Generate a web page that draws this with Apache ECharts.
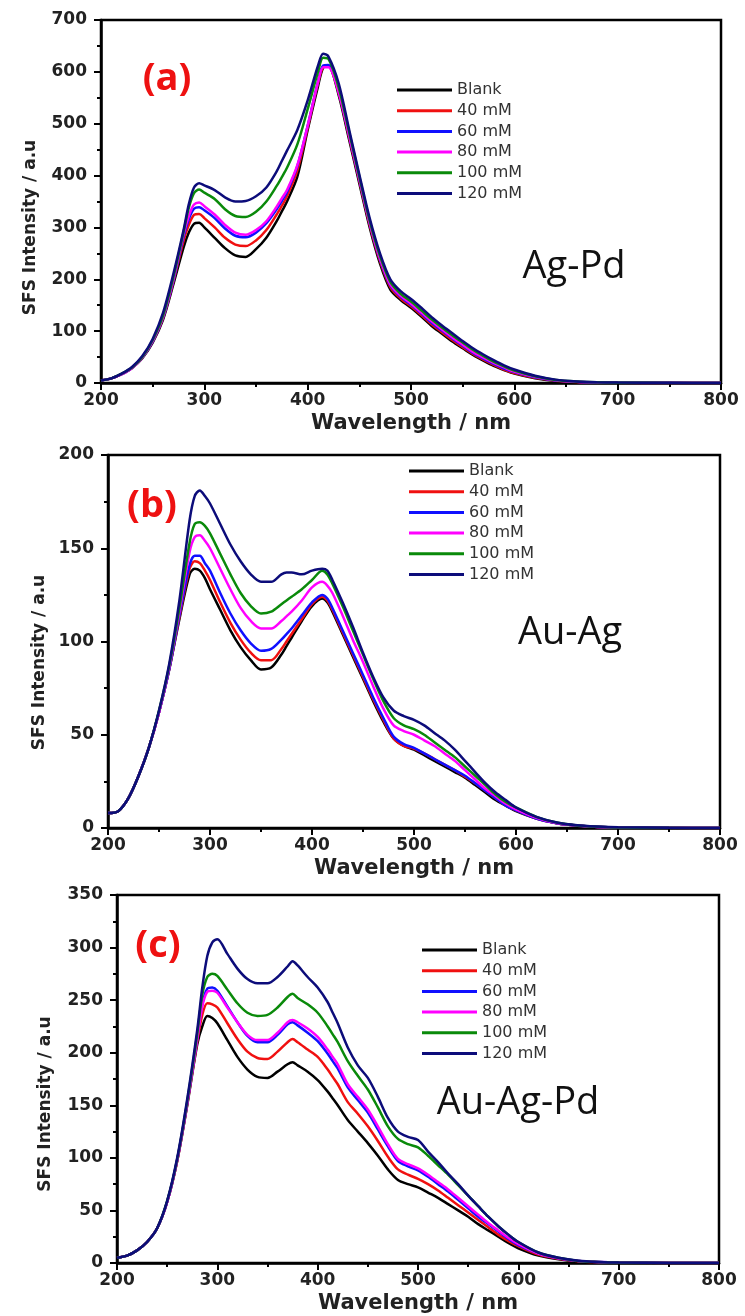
<!DOCTYPE html>
<html>
<head>
<meta charset="utf-8">
<script src="https://cdn.jsdelivr.net/npm/echarts@6/dist/echarts.min.js"></script>
<style>
html,body{margin:0;padding:0;background:#fff;}
#chart{width:745px;height:1316px;}
</style>
</head>
<body>
<div id="chart"></div>
<script>
// ---- data ----
const wavelengths = [200,210,220,230,240,250,260,270,280,285,290,295,300,310,320,330,340,350,360,370,375,380,390,400,410,415,420,430,440,450,460,470,480,490,500,510,520,530,540,550,560,570,580,590,600,620,640,660,680,700,750,800];
const seriesNames = ['Blank','40 mM','60 mM','80 mM','100 mM','120 mM'];
const xTicks = [200,300,400,500,600,700,800];

// (a) Ag-Pd
const agPd_blank = [5,9,17,29,48,78,122,190, 262,290,307,309,300, 280,260,246,243,258,280,312, 331, 350,398,488,572, 608, 611, 555,470,385,300,230,180,160,145,128,110,95,80,67,54,43,33,25, 18, 9,4,2,1,0.5, 0,0];
const agPd_40 = [5,9,17,29,49,80,125,195, 275,305,324,326,318, 300,280,267,264,275,295,325, 342, 360,410,492,578, 609, 611, 560,475,390,305,235,185,163,148,131,113,98,83,69,56,45,35,26, 19, 10,4.5,2,1,0.5, 0,0];
const agPd_60 = [5,9,17,29,49,80,126,197, 283,316,336,339,333, 318,298,284,281,290,308,335, 351, 368,418,496,581, 612, 613, 562,478,393,308,238,188,166,151,134,116,101,86,72,58,47,37,28, 21, 11,5,2.5,1,0.6, 0,0];
const agPd_80 = [5,9,17,29,49,81,127,199, 288,322,344,348,341, 325,305,290,286,295,312,340, 356, 372,420,496,580, 609, 609, 560,478,393,308,240,190,168,153,136,119,103,88,74,60,49,39,30, 22, 12,5.5,2.5,1.2,0.6, 0,0];
const agPd_100 = [5,9,18,30,50,83,130,204, 292,338,366,373,367, 355,335,322,320,330,350,380, 397, 415,460,528,600, 627, 625, 570,485,398,313,245,195,172,157,140,123,107,92,78,64,52,41,32, 24, 13,6,3,1.3,0.7, 0.2,0];
const agPd_120 = [5,9,18,31,52,85,135,210, 296,345,377,385,381, 372,358,350,351,360,377,408, 428, 448,488,545,612, 635, 630, 578,490,402,318,250,200,177,162,145,127,111,96,81,67,55,44,34, 26, 14,6.5,3,1.5,0.8, 0.3,0];

// (b) Au-Ag
const auAg_blank = [8,9,16,28,43,62,85,112, 136,139,138,134,128, 117,106,97,90,85,86,93, 97.5, 102,111,119,123, 121, 116, 104,92,80,68,57,48,44,42,39,36,33,30,27,23,19,15,12, 9, 5,2.5,1.2,0.6,0.3, 0.1,0];
const auAg_40 = [8,9,16,28,43,62,85,113, 139,143,142,138,133, 121,110,101,94,90,90,96, 100, 104,112,120,124, 122, 117, 105,93,81,69,58,48,44,42.5,40,37,34,31,27.5,24,20,16,12, 9.5, 5,2.5,1.2,0.6,0.3, 0.1,0];
const auAg_60 = [8,9,16,28,43,62,85,114, 141,146,146,142,138, 126,115,106,99,95,96,101, 104, 107,114,121,125, 123, 118, 106,94,82,70,59,49,45,43,40,37,34,31,28,24,20,16,12, 9.5, 5,2.5,1.2,0.6,0.3, 0.1,0];
const auAg_80 = [8,9,16,28,43,62,86,116, 148,156,157,154,150, 139,128,118,111,107,107,111, 113.5, 116,122,129,132, 130, 126, 114,101,89,76,64,55,52,50,47,44,40,36,31,26,21,17,13, 10, 5.5,2.7,1.3,0.6,0.3, 0.1,0];
const auAg_100 = [8,9,16,28,43,63,87,118, 153,163,164,162,158, 147,136,126,119,115,116,120, 122, 124,128,133,138, 136, 131, 119,106,93,80,68,59,55,53,50,46,42,38,33,28,23,18,14, 11, 6,3,1.4,0.7,0.3, 0.1,0];
const auAg_120 = [8,9,16,28,43,63,88,122, 165,178,181,178,174, 163,152,143,136,132,132,136, 137, 137,136,138,139, 138, 133, 121,108,94,81,70,63,60,58,55,51,47,42,36,30,24,19,15, 11, 6,3,1.5,0.8,0.4, 0.1,0];

// (c) Au-Ag-Pd
const auAgPd_blank = [5,7,12,20,33,58,97,150, 208,225,235,233,228, 212,196,184,177,176,182,189, 191, 188,182,174,163, 156.5, 150, 136,125,114,102,89,79,75,72,67,62,56,50,44,37,31,25,19, 14, 7,3.5,1.5,0.7,0.3, 0.1,0];
const auAgPd_40 = [5,7,12,20,33,58,97,151, 211,236,247,246,243, 228,213,201,195,194,201,210, 213, 210,203,196,184, 177, 170, 153,142,130,116,101,89,84,80,75,69,62,55,48,41,34,27,21, 16, 8,4,1.7,0.8,0.3, 0.1,0];
const auAgPd_60 = [5,7,12,20,33,58,98,152, 214,246,261,262,259, 244,229,216,210,210,217,227, 229, 226,219,211,199, 192, 185, 167,155,143,127,111,97,92,88,82,75,68,60,52,44,37,30,23, 17, 9,4.5,2,0.9,0.4, 0.1,0];
const auAgPd_80 = [5,7,12,20,33,58,98,152, 213,244,258,259,257, 243,229,217,212,212,219,229, 231, 229,223,215,203, 196, 189, 170,158,146,130,113,99,94,90,84,77,70,62,54,46,38,31,24, 18, 9,4.5,2,0.9,0.4, 0.1,0];
const auAgPd_100 = [5,7,12,20,33,59,99,154, 218,255,272,275,273, 260,247,238,235,236,243,253, 256, 252,246,238,225, 217.5, 210, 192,178,165,148,130,118,113,110,102,93,84,74,64,54,44,35,27, 20, 10,5,2,1,0.4, 0.1,0];
const auAgPd_120 = [5,7,12,20,33,59,100,156, 222,262,292,305,308, 294,280,270,266,266,272,282, 287, 283,272,262,248, 238, 228, 205,188,176,158,138,125,120,117,106,96,85,75,64,54,44,35,27, 20, 10,5,2.2,1,0.4, 0.1,0];

const panelLabels = ['(a)','(b)','(c)'];
const sampleNames = ['Ag-Pd','Au-Ag','Au-Ag-Pd'];
const yMax = [700,200,350];
const yInterval = [100,50,50];

// ---- styling ----
const colors = ['#000000','#f01010','#1010ff','#ff00ff','#0a8a0a','#0c0c7a'];
const panels = [
  [agPd_blank,agPd_40,agPd_60,agPd_80,agPd_100,agPd_120],
  [auAg_blank,auAg_40,auAg_60,auAg_80,auAg_100,auAg_120],
  [auAgPd_blank,auAgPd_40,auAgPd_60,auAgPd_80,auAgPd_100,auAgPd_120]
];
const grids = [
  {left:101, top:20, width:620, height:363},
  {left:108, top:455, width:612, height:373},
  {left:117, top:895, width:602, height:368}
];
const yNameGap = [62, 59, 63];
const yNameShift = [26, 21, 25];
const legendPos = [{left:397, top:81.5},{left:409, top:462.5},{left:422, top:941.5}];
const labelPos = [[167,79],[152,506],[158,946]];
const samplePos = [[574,267],[570,633],[518,1103]];

const tickFont = {fontFamily:'DejaVu Sans', fontWeight:'bold', fontSize:17, color:'#222'};
const axisLine = {lineStyle:{color:'#000', width:2.5}};

const option = {
  backgroundColor:'#fff',
  animation:false,
  color: colors,
  grid: grids.map(g => Object.assign({show:true, borderColor:'#000', borderWidth:2.5, backgroundColor:'transparent'}, g)),
  xAxis: grids.map((g,i) => ({
    type:'value', gridIndex:i, min:200, max:800, interval:100,
    axisLine: axisLine,
    axisTick:{show:true, length:7, lineStyle:{color:'#000', width:2}},
    minorTick:{show:true, splitNumber:2, length:4, lineStyle:{color:'#000', width:2}},
    splitLine:{show:false},
    axisLabel:Object.assign({margin:9, formatter: v => xTicks.includes(v) ? String(v) : ''}, tickFont),
    name:'Wavelength / nm', nameLocation:'middle', nameGap:30,
    nameTextStyle:{fontFamily:'DejaVu Sans', fontWeight:'bold', fontSize:21, color:'#222'}
  })),
  yAxis: grids.map((g,i) => ({
    type:'value', gridIndex:i, min:0, max:yMax[i], interval:yInterval[i],
    axisLine: axisLine,
    axisTick:{show:true, length:7, lineStyle:{color:'#000', width:2}},
    minorTick:{show:true, splitNumber:2, length:4, lineStyle:{color:'#000', width:2}},
    splitLine:{show:false},
    axisLabel:Object.assign({margin:14}, tickFont),
    name:'SFS Intensity / a.u', nameLocation:'middle', nameGap:yNameGap[i],
    nameTextStyle:{fontFamily:'DejaVu Sans', fontWeight:'bold', fontSize:17, color:'#222',
      padding:[0, yNameShift[i]*2, 0, 0]}
  })),
  legend: legendPos.map(p => ({
    left:p.left, top:p.top, orient:'vertical', padding:0,
    itemWidth:55, itemHeight:3, itemGap:3.7, icon:'rect',
    data: seriesNames,
    selectedMode:false,
    textStyle:{fontFamily:'DejaVu Sans', fontSize:16, color:'#333', lineHeight:17}
  })),
  graphic: [].concat(
    panelLabels.map((t,i) => ({
      type:'text', x:labelPos[i][0], y:labelPos[i][1], z:10,
      style:{text:t, fill:'#ee1111', fontFamily:'Open Sans', fontWeight:'bold', fontSize:38,
        textAlign:'center', textVerticalAlign:'middle'}
    })),
    sampleNames.map((t,i) => ({
      type:'text', x:samplePos[i][0], y:samplePos[i][1], z:10,
      style:{text:t, fill:'#111', fontFamily:'Open Sans', fontSize:38,
        textAlign:'center', textVerticalAlign:'middle'}
    }))
  ),
  series: []
};

panels.forEach((arrs, p) => {
  arrs.forEach((arr, k) => {
    option.series.push({
      type:'line', name:seriesNames[k], xAxisIndex:p, yAxisIndex:p,
      data: wavelengths.map((w,i) => [w, arr[i]]),
      showSymbol:false, smooth:0.3,
      lineStyle:{width:2.5, color:colors[k]},
      itemStyle:{color:colors[k]},
      z: 2 + k
    });
  });
});

const chart = echarts.init(document.getElementById('chart'), null, {renderer:'canvas'});
chart.setOption(option);
</script>
</body>
</html>
